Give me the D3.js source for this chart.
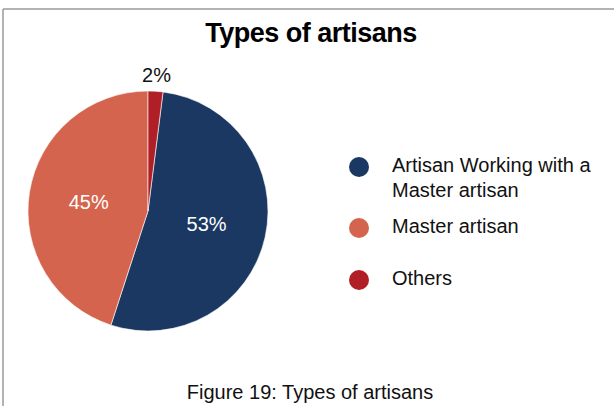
<!DOCTYPE html>
<html>
<head>
<meta charset="utf-8">
<script src="https://cdn.jsdelivr.net/npm/d3@7/dist/d3.min.js"></script>
<style>
  html, body { margin: 0; padding: 0; background: #fff; }
  svg { display: block; font-family: "Liberation Sans", Arial, Helvetica, sans-serif; }
</style>
</head>
<body>
<svg id="chart" width="614" height="406"></svg>
<script>
// Shares of artisan types (percent)
const categories = ["Artisan Working with a\nMaster artisan", "Master artisan", "Others"];
const values = [53, 45, 2];
const colors = ["#1a3861", "#d5644e", "#b01f25"];
const title = "Types of artisans";
const caption = "Figure 19: Types of artisans";

const svg = d3.select("#chart");
const W = 614, H = 406;

// Frame lines (top and left only)
svg.append("line").attr("x1", 3).attr("y1", 9).attr("x2", W).attr("y2", 9)
  .attr("stroke", "#9a9a9a").attr("stroke-width", 1.5);
svg.append("line").attr("x1", 3).attr("y1", 9).attr("x2", 3).attr("y2", H)
  .attr("stroke", "#9a9a9a").attr("stroke-width", 1.5);

// Title
svg.append("text")
  .attr("x", 311).attr("y", 42)
  .attr("text-anchor", "middle")
  .attr("font-size", 27).attr("font-weight", "bold")
  .attr("letter-spacing", -0.5)
  .attr("fill", "#000")
  .text(title);

// Pie
const cx = 148, cy = 211, r = 120;
const total = d3.sum(values);
const start = (values[2] / total) * 2 * Math.PI;
const pie = d3.pie().sort(null).value(d => d)
  .startAngle(start).endAngle(start + 2 * Math.PI);
const arcs = pie(values);
const arc = d3.arc().innerRadius(0).outerRadius(r);

const g = svg.append("g").attr("transform", `translate(${cx},${cy})`);
g.selectAll("path").data(arcs).join("path")
  .attr("d", arc)
  .attr("fill", (d, i) => colors[i])
  .attr("stroke", "#fff").attr("stroke-width", 0.6);

// Percentage labels: inside for large slices, outside for the small one
const inner = d3.arc().innerRadius(r * 0.5).outerRadius(r * 0.5);
const outer = d3.arc().innerRadius(r + 16).outerRadius(r + 16);
g.selectAll("text.pct").data(arcs).join("text")
  .attr("class", "pct")
  .attr("transform", (d, i) => {
    const p = (d.value / total) < 0.05 ? outer.centroid(d) : inner.centroid(d);
    return `translate(${p[0]},${p[1]})`;
  })
  .attr("text-anchor", "middle")
  .attr("dy", "0.36em")
  .attr("font-size", 20)
  .attr("fill", d => (d.value / total) < 0.05 ? "#111" : "#fff")
  .text(d => d3.format(".0f")(d.value / total * 100) + "%");

// Legend
const legendRows = [167, 228, 280];
const lg = svg.append("g");
categories.forEach((c, i) => {
  lg.append("circle").attr("cx", 359).attr("cy", legendRows[i]).attr("r", 10)
    .attr("fill", colors[i]);
  const lines = c.split("\n");
  const t = lg.append("text")
    .attr("x", 392).attr("y", legendRows[i] + 5)
    .attr("font-size", 20).attr("fill", "#111");
  lines.forEach((ln, j) => {
    t.append("tspan").attr("x", 392).attr("dy", j === 0 ? 0 : 25).text(ln);
  });
});

// Caption
svg.append("text")
  .attr("x", 310).attr("y", 399)
  .attr("text-anchor", "middle")
  .attr("font-size", 20).attr("fill", "#111")
  .text(caption);
</script>
</body>
</html>
